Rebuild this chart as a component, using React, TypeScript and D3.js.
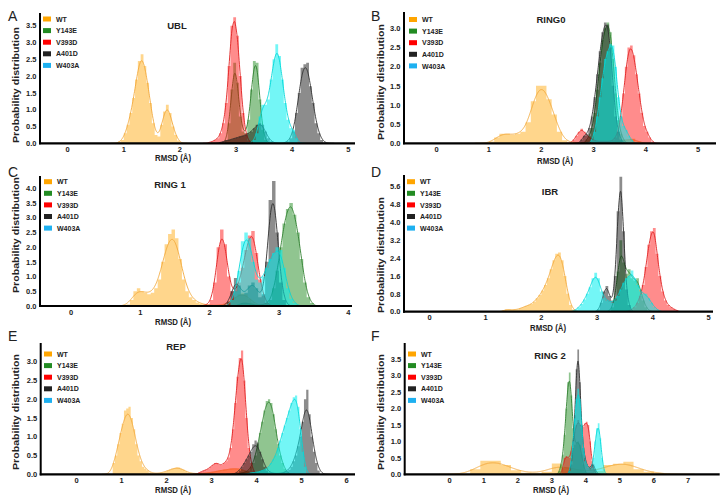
import React from 'react';
import * as d3 from 'd3';

const seriesNames = ['WT', 'Y143E', 'V393D', 'A401D', 'W403A'];
const legendColors = ['#FFA500', '#228B22', '#FF0000', '#222222', '#1DB0F0'];
const barColors = ['#FFA500', '#228B22', '#FF0000', '#000000', '#00EEEE'];
const lineColors = ['#F2A93B', '#2F7F2F', '#E02020', '#303030', '#00D8D8'];
const barOpacity = [0.45, 0.5, 0.45, 0.45, 0.55];

// ---------- A: UBL ----------
const ublWT = [0.05, 0.1, 0.3, 0.55, 0.9, 1.35, 1.9, 2.45, 2.65, 2.3, 1.8, 1.2, 0.6, 0.25, 0.2, 0.55, 0.95, 1.15, 0.9, 0.5, 0.25, 0.08];
const ublY143E = [0.1, 0.6, 1.6, 2.4, 1.8, 0.8, 0.35, 0.3, 0.7, 1.6, 2.45, 2.4, 1.3, 0.4, 0.1];
const ublV393D = [0.03, 0.05, 0.1, 0.15, 0.3, 0.6, 1.2, 2.3, 3.5, 3.75, 3.2, 2.0, 0.9, 0.3, 0.08];
const ublA401D = [0.03, 0.05, 0.08, 0.1, 0.12, 0.15, 0.17, 0.2, 0.22, 0.25, 0.3, 0.35, 0.45, 0.55, 0.6, 0.55, 0.35, 0.15, 0.05, 0.02, 0, 0, 0, 0.02, 0.05, 0.15, 0.35, 0.9, 1.5, 2.25, 2.35, 2.4, 1.7, 1.2, 0.6, 0.3, 0.1, 0.03];
const ublW403A = [0.1, 0.3, 0.8, 1.15, 1.15, 1.3, 1.9, 2.5, 2.95, 2.6, 1.9, 1.2, 0.7, 0.45, 0.4, 0.15];
const ublStarts = [0.9, 2.8, 2.5, 2.7, 3.3];
const ublWidths = [0.05, 0.05, 0.05, 0.05, 0.05];
const ublBandwidths = [0.045, 0.035, 0.03, 0.05, 0.045];
const ublXTicks = [0, 1, 2, 3, 4, 5];
const ublYTicks = [0, 0.5, 1.0, 1.5, 2.0, 2.5, 3.0, 3.5];

// ---------- B: RING0 ----------
const ring0WT = [0.05, 0.15, 0.25, 0.25, 0.22, 0.25, 0.3, 0.55, 1.1, 1.5, 1.5, 1.15, 0.75, 0.3, 0.08, 0.02, 0.02, 0.02, 0.02, 0.02, 0.02, 0.02, 0.02, 0.02, 0.03, 0.05, 0.1, 0.12, 0.05];
const ring0Y143E = [0.1, 0.2, 0.4, 0.8, 1.4, 2.1, 2.7, 3.0, 3.15, 2.9, 2.2, 1.3, 0.6, 0.25, 0.1];
const ring0V393D = [0.1, 0.2, 0.3, 0.38, 0.3, 0.2, 0.15, 0.1, 0.08, 0.05, 0.05, 0.05, 0.05, 0.05, 0.05, 0.08, 0.15, 0.3, 0.7, 1.3, 2.0, 2.5, 2.55, 2.3, 1.8, 1.3, 0.8, 0.45, 0.3, 0.15, 0.05];
const ring0A401D = [0.1, 0.2, 0.25, 0.4, 0.7, 1.2, 1.8, 2.4, 2.9, 3.15, 3.1, 2.5, 1.5, 0.7, 0.3, 0.1];
const ring0W403A = [0.1, 0.3, 0.7, 1.2, 1.7, 2.2, 2.4, 2.6, 2.55, 2.0, 1.2, 0.7, 0.45, 0.35, 0.2, 0.1];
const ring0Starts = [1.0, 2.85, 2.6, 2.75, 2.95];
const ring0Widths = [0.1, 0.05, 0.05, 0.05, 0.05];
const ring0Bandwidths = [0.09, 0.035, 0.04, 0.035, 0.035];
const ring0XTicks = [0, 1, 2, 3, 4, 5];
const ring0YTicks = [0, 0.5, 1.0, 1.5, 2.0, 2.5, 3.0];

// ---------- C: RING 1 ----------
const ring1WT = [0.05, 0.2, 0.5, 0.6, 0.5, 0.45, 0.4, 0.45, 0.6, 0.9, 1.5, 2.1, 2.45, 2.6, 2.3, 1.6, 0.9, 0.5, 0.3, 0.2, 0.12, 0.08, 0.05, 0.03, 0.02, 0.02, 0.02, 0.03, 0.05, 0.1, 0.2, 0.3, 0.4, 0.45, 0.4, 0.25, 0.12, 0.05];
const ring1Y143E = [0.05, 0.1, 0.1, 0.08, 0.05, 0.03, 0.03, 0.05, 0.1, 0.2, 0.6, 1.2, 2.0, 2.8, 3.3, 3.5, 3.1, 2.5, 1.6, 0.8, 0.3, 0.1];
const ring1V393D = [0.03, 0.05, 0.2, 0.8, 2.0, 2.6, 2.1, 1.0, 0.5, 0.5, 0.8, 1.3, 1.9, 2.4, 2.55, 1.8, 0.9, 0.35, 0.1];
const ring1A401D = [0.15, 0.5, 0.95, 0.7, 0.4, 0.45, 0.7, 0.8, 0.6, 0.3, 0.4, 1.5, 3.6, 4.25, 2.5, 0.8, 0.2];
const ring1W403A = [0.2, 0.5, 1.2, 2.2, 2.5, 2.3, 1.5, 0.9, 0.8, 1.0, 1.3, 1.6, 1.8, 2.0, 1.9, 1.3, 0.6, 0.25, 0.1];
const ring1Starts = [0.8, 2.4, 1.9, 2.25, 2.3];
const ring1Widths = [0.05, 0.05, 0.05, 0.05, 0.05];
const ring1Bandwidths = [0.07, 0.035, 0.04, 0.045, 0.05];
const ring1XTicks = [0, 1, 2, 3, 4];
const ring1YTicks = [0, 0.5, 1.0, 1.5, 2.0, 2.5, 3.0, 3.5, 4.0];

// ---------- D: IBR ----------
const ibrWT = [0.05, 0.1, 0.1, 0.08, 0.1, 0.1, 0.15, 0.2, 0.25, 0.3, 0.35, 0.45, 0.6, 0.75, 0.95, 1.2, 1.5, 1.9, 2.3, 2.6, 2.65, 2.3, 1.6, 0.8, 0.3, 0.1];
const ibrY143E = [0.2, 0.6, 1.8, 3.2, 2.2, 1.7, 1.9, 1.5, 1.4, 1.5, 1.0, 0.5, 0.2, 0.05];
const ibrV393D = [0.05, 0.1, 0.2, 0.4, 0.7, 1.2, 2.0, 3.0, 3.6, 3.75, 2.6, 1.6, 0.9, 0.5, 0.3, 0.2, 0.12, 0.06];
const ibrA401D = [0.1, 0.4, 0.9, 1.15, 0.7, 0.5, 1.6, 4.5, 6.05, 3.6, 1.0, 0.3];
const ibrW403A = [0.1, 0.2, 0.35, 0.55, 0.8, 1.1, 1.5, 1.75, 1.5, 0.9, 0.6, 0.5, 0.45, 0.4, 0.5, 0.7, 1.0, 1.3, 1.5, 1.6, 1.85, 1.5, 1.2, 0.9, 0.8, 0.8, 0.6, 0.4, 0.2, 0.1];
const ibrStarts = [1.3, 3.25, 3.55, 3.0, 2.6];
const ibrWidths = [0.05, 0.05, 0.05, 0.05, 0.05];
const ibrBandwidths = [0.045, 0.045, 0.035, 0.03, 0.05];
const ibrXTicks = [0, 1, 2, 3, 4, 5];
const ibrYTicks = [0, 0.8, 1.6, 2.4, 3.2, 4.0, 4.8, 5.6];

// ---------- E: REP ----------
const repWT = [0.3, 0.5, 0.8, 1.1, 1.35, 1.7, 1.75, 1.8, 1.5, 1.2, 0.8, 0.5, 0.35, 0.2, 0.15, 0.1, 0.05, 0.03, 0.02, 0.02, 0.03, 0.04, 0.05, 0.07, 0.1, 0.12, 0.15, 0.17, 0.18, 0.18, 0.15, 0.12, 0.08, 0.05, 0.03, 0.02, 0.02, 0.02, 0.02, 0.02, 0.03, 0.03, 0.04, 0.05, 0.06, 0.07, 0.08, 0.1, 0.1, 0.12, 0.12, 0.13, 0.15, 0.15, 0.15, 0.15, 0.15, 0.12, 0.1, 0.08, 0.05, 0.03];
const repY143E = [0.03, 0.04, 0.05, 0.07, 0.1, 0.2, 0.3, 0.5, 0.8, 1.1, 1.4, 1.7, 1.95, 2.0, 1.9, 1.6, 1.2, 0.8, 0.5, 0.3, 0.15, 0.05];
const repV393D = [0.05, 0.07, 0.1, 0.12, 0.15, 0.2, 0.25, 0.3, 0.3, 0.25, 0.25, 0.3, 0.35, 0.45, 0.7, 1.2, 1.9, 2.6, 3.1, 3.3, 2.5, 1.5, 0.7, 0.3, 0.1];
const repA401D = [0.05, 0.1, 0.2, 0.3, 0.4, 0.5, 0.6, 0.8, 0.9, 0.85, 0.6, 0.4, 0.2, 0.1, 0.05, 0.02, 0.02, 0.02, 0.02, 0.02, 0.03, 0.05, 0.08, 0.12, 0.2, 0.35, 0.5, 0.75, 1.0, 1.4, 2.0, 2.25, 1.6, 1.0, 0.6, 0.3, 0.1];
const repW403A = [0.03, 0.04, 0.05, 0.05, 0.06, 0.08, 0.1, 0.12, 0.15, 0.2, 0.3, 0.4, 0.5, 0.7, 0.9, 1.1, 1.3, 1.5, 1.7, 1.9, 2.05, 2.1, 1.8, 1.2, 0.6, 0.2];
const repStarts = [0.8, 3.6, 2.7, 3.55, 3.8];
const repWidths = [0.05, 0.05, 0.05, 0.05, 0.05];
const repBandwidths = [0.08, 0.05, 0.04, 0.075, 0.05];
const repXTicks = [0, 1, 2, 3, 4, 5, 6];
const repYTicks = [0, 0.5, 1.0, 1.5, 2.0, 2.5, 3.0];

// ---------- F: RING 2 ----------
const ring2WT = [0.15, 0.41, 0.41, 0.28, 0.12, 0.05, 0.03, 0.08, 0.33, 0.2, 0.12, 0.08, 0.1, 0.28, 0.32, 0.38, 0.15, 0.08, 0.03];
const ring2Y143E = [0.1, 0.3, 0.6, 1.2, 2.0, 2.8, 3.1, 2.4, 1.4, 0.9, 0.95, 1.0, 0.9, 0.6, 0.3, 0.1];
const ring2V393D = [0.2, 0.5, 0.55, 0.5, 0.5, 0.7, 1.0, 1.3, 1.5, 1.65, 1.5, 1.4, 1.45, 1.55, 1.6, 1.5, 1.0, 0.4, 0.15, 0.05];
const ring2A401D = [0.1, 0.3, 0.8, 1.8, 3.2, 3.8, 2.8, 1.5, 0.8, 0.5, 0.3, 0.2, 0.2, 0.3, 0.3, 0.15, 0.05];
const ring2W403A = [0.1, 0.4, 1.0, 1.7, 2.3, 2.6, 2.3, 1.5, 0.8, 0.4, 0.3, 0.2, 0.15, 0.2, 0.5, 1.0, 1.4, 1.55, 1.1, 0.5, 0.15];
const ring2Starts = [0.6, 3.2, 3.3, 3.5, 3.5];
const ring2Widths = [0.3, 0.05, 0.05, 0.05, 0.05];
const ring2Bandwidths = [0.3, 0.04, 0.04, 0.035, 0.04];
const ring2XTicks = [0, 1, 2, 3, 4, 5, 6, 7];
const ring2YTicks = [0, 0.5, 1.0, 1.5, 2.0, 2.5, 3.0, 3.5];

type PanelData = {
  series: number[][];
  starts: number[];
  widths: number[];
  bws: number[];
  xTicks: number[];
  yTicks: number[];
};

const panelData: PanelData[] = [
  { series: [ublWT, ublY143E, ublV393D, ublA401D, ublW403A], starts: ublStarts, widths: ublWidths, bws: ublBandwidths, xTicks: ublXTicks, yTicks: ublYTicks },
  { series: [ring0WT, ring0Y143E, ring0V393D, ring0A401D, ring0W403A], starts: ring0Starts, widths: ring0Widths, bws: ring0Bandwidths, xTicks: ring0XTicks, yTicks: ring0YTicks },
  { series: [ring1WT, ring1Y143E, ring1V393D, ring1A401D, ring1W403A], starts: ring1Starts, widths: ring1Widths, bws: ring1Bandwidths, xTicks: ring1XTicks, yTicks: ring1YTicks },
  { series: [ibrWT, ibrY143E, ibrV393D, ibrA401D, ibrW403A], starts: ibrStarts, widths: ibrWidths, bws: ibrBandwidths, xTicks: ibrXTicks, yTicks: ibrYTicks },
  { series: [repWT, repY143E, repV393D, repA401D, repW403A], starts: repStarts, widths: repWidths, bws: repBandwidths, xTicks: repXTicks, yTicks: repYTicks },
  { series: [ring2WT, ring2Y143E, ring2V393D, ring2A401D, ring2W403A], starts: ring2Starts, widths: ring2Widths, bws: ring2Bandwidths, xTicks: ring2XTicks, yTicks: ring2YTicks },
];

const panelTitles = ['UBL', 'RING0', 'RING 1', 'IBR', 'REP', 'RING 2'];
const panelLetters = ['A', 'B', 'C', 'D', 'E', 'F'];

// layout (pixels)
const layouts = [
  { left: 40, right: 355, top: 13, bottom: 143.3, xa: 0, xaPx: 67.7, xb: 5, xbPx: 348.3, yb: 3.5, ybPx: 25.7, titleX: 177, titleY: 28.5, letterX: 8, letterY: 21, legX: 43, legY: 19, xlabX: 173, xlabY: 160.5, ylabX: 15, ylabY: 85 },
  { left: 404, right: 716, top: 12, bottom: 143.3, xa: 0, xaPx: 436.7, xb: 5, xbPx: 698, yb: 3.0, ybPx: 28.3, titleX: 551, titleY: 22.5, letterX: 371, letterY: 21, legX: 409, legY: 19.5, xlabX: 555, xlabY: 164, ylabX: 380, ylabY: 82 },
  { left: 40, right: 352, top: 176, bottom: 306, xa: 0, xaPx: 71, xb: 4, xbPx: 348.3, yb: 4.0, ybPx: 188.3, titleX: 170, titleY: 188, letterX: 8, letterY: 177, legX: 44, legY: 181.7, xlabX: 173, xlabY: 324.5, ylabX: 15, ylabY: 235 },
  { left: 404, right: 713, top: 175, bottom: 311.7, xa: 0, xaPx: 429.7, xb: 5, xbPx: 708.7, yb: 5.6, ybPx: 186.7, titleX: 550, titleY: 195, letterX: 371, letterY: 177, legX: 407, legY: 181.7, xlabX: 548, xlabY: 330.5, ylabX: 380, ylabY: 255 },
  { left: 40.7, right: 355, top: 343, bottom: 474.3, xa: 0, xaPx: 76.7, xb: 6, xbPx: 346.7, yb: 3.0, ybPx: 361.7, titleX: 176, titleY: 350, letterX: 8, letterY: 341, legX: 44, legY: 354, xlabX: 173, xlabY: 493, ylabX: 15, ylabY: 412 },
  { left: 404.7, right: 719.7, top: 343, bottom: 474.3, xa: 0, xaPx: 449.7, xb: 7, xbPx: 688, yb: 3.5, ybPx: 359.3, titleX: 550, titleY: 359, letterX: 371, letterY: 341, legX: 408, legY: 354, xlabX: 551, xlabY: 493, ylabX: 380, ylabY: 412 },
];

const FONT = '"Liberation Sans", Arial, sans-serif';

function kdePoints(start: number, width: number, h: number[], bw: number): [number, number][] {
  const centers = h.map((_, i) => start + (i + 0.5) * width);
  const lo = start - 3 * bw;
  const hi = start + h.length * width + 3 * bw;
  const norm = 1 / Math.sqrt(2 * Math.PI);
  return d3.range(lo, hi, 0.005).map((x) => {
    let s = 0;
    for (let i = 0; i < h.length; i++) {
      const z = (x - centers[i]) / bw;
      s += (h[i] * width * norm * Math.exp(-0.5 * z * z)) / bw;
    }
    return [x, s] as [number, number];
  });
}

function Panel({ idx }: { idx: number }) {
  const L = layouts[idx];
  const D = panelData[idx];
  const x = d3.scaleLinear().domain([L.xa, L.xb]).range([L.xaPx, L.xbPx]);
  const y = d3.scaleLinear().domain([0, L.yb]).range([L.bottom, L.ybPx]);
  const clipId = `clip${idx}`;

  const area = d3
    .area<[number, number]>()
    .x((d) => x(d[0]))
    .y0(y(0))
    .y1((d) => y(d[1]))
    .curve(d3.curveStepAfter);
  const line = d3
    .line<[number, number]>()
    .x((d) => x(d[0]))
    .y((d) => y(d[1]))
    .curve(d3.curveMonotoneX);

  return (
    <g>
      <defs>
        <clipPath id={clipId}>
          <rect x={L.left} y={L.top - 5} width={L.right - L.left} height={L.bottom - L.top + 5} />
        </clipPath>
      </defs>
      <g clipPath={`url(#${clipId})`}>
        {D.series.map((h, si) => {
          const st = D.starts[si];
          const w = D.widths[si];
          const pts: [number, number][] = h.map((v, i) => [st + i * w, v] as [number, number]);
          pts.push([st + h.length * w, 0]);
          const kp = kdePoints(st, w, h, D.bws[si]);
          return (
            <g key={si}>
              <path d={area(pts) || ''} fill={barColors[si]} fillOpacity={barOpacity[si]} stroke="none" />
              <path d={line(kp) || ''} fill="none" stroke={lineColors[si]} strokeWidth={1} strokeOpacity={0.9} />
            </g>
          );
        })}
      </g>
      {/* spines */}
      <line x1={L.left} x2={L.left} y1={L.top} y2={L.bottom + 1} stroke="#000" strokeWidth={2} />
      <line x1={L.left - 1} x2={L.right} y1={L.bottom} y2={L.bottom} stroke="#000" strokeWidth={2.2} />
      {/* ticks */}
      {D.xTicks.map((t) => (
        <text key={`x${t}`} x={x(t)} y={L.bottom + 8.5} textAnchor="middle" fontFamily={FONT} fontWeight="bold" fontSize={7.5} fill="#222">
          {d3.format('d')(t)}
        </text>
      ))}
      {D.yTicks.map((t) => (
        <text key={`y${t}`} x={L.left - 3.5} y={y(t) + 2.7} textAnchor="end" fontFamily={FONT} fontWeight="bold" fontSize={7.5} fill="#222">
          {d3.format('.1f')(t)}
        </text>
      ))}
      {/* title */}
      <text x={L.titleX} y={L.titleY} textAnchor="middle" fontFamily={FONT} fontWeight="bold" fontSize={9.5} fill="#222">
        {panelTitles[idx]}
      </text>
      {/* panel letter */}
      <text x={L.letterX} y={L.letterY} fontFamily={FONT} fontSize={14} fill="#222">
        {panelLetters[idx]}
      </text>
      {/* axis labels */}
      <text x={L.xlabX} y={L.xlabY} textAnchor="middle" fontFamily={FONT} fontWeight="bold" fontSize={8.5} fill="#222" textLength={36} lengthAdjust="spacingAndGlyphs">
        RMSD (Å)
      </text>
      <text
        transform={`translate(${L.ylabX + 3.5},${L.ylabY}) rotate(-90)`}
        textAnchor="middle"
        fontFamily={FONT}
        fontWeight="bold"
        fontSize={9.5}
        fill="#222"
        textLength={116}
        lengthAdjust="spacingAndGlyphs"
      >
        Probability distribution
      </text>
      {/* legend */}
      {seriesNames.map((n, si) => (
        <g key={n}>
          <rect x={L.legX} y={L.legY + si * 11.6 - 2.5} width={8} height={5} fill={legendColors[si]} />
          <text x={L.legX + 13} y={L.legY + si * 11.6 + 2.6} fontFamily={FONT} fontWeight="bold" fontSize={7} fill="#222">
            {n}
          </text>
        </g>
      ))}
    </g>
  );
}

export default function App() {
  return (
    <svg width={726} height={502} style={{ position: 'absolute', left: 0, top: 0, background: '#fff' }}>
      <rect x={0} y={0} width={726} height={502} fill="#fff" />
      {layouts.map((_, i) => (
        <Panel key={i} idx={i} />
      ))}
    </svg>
  );
}
